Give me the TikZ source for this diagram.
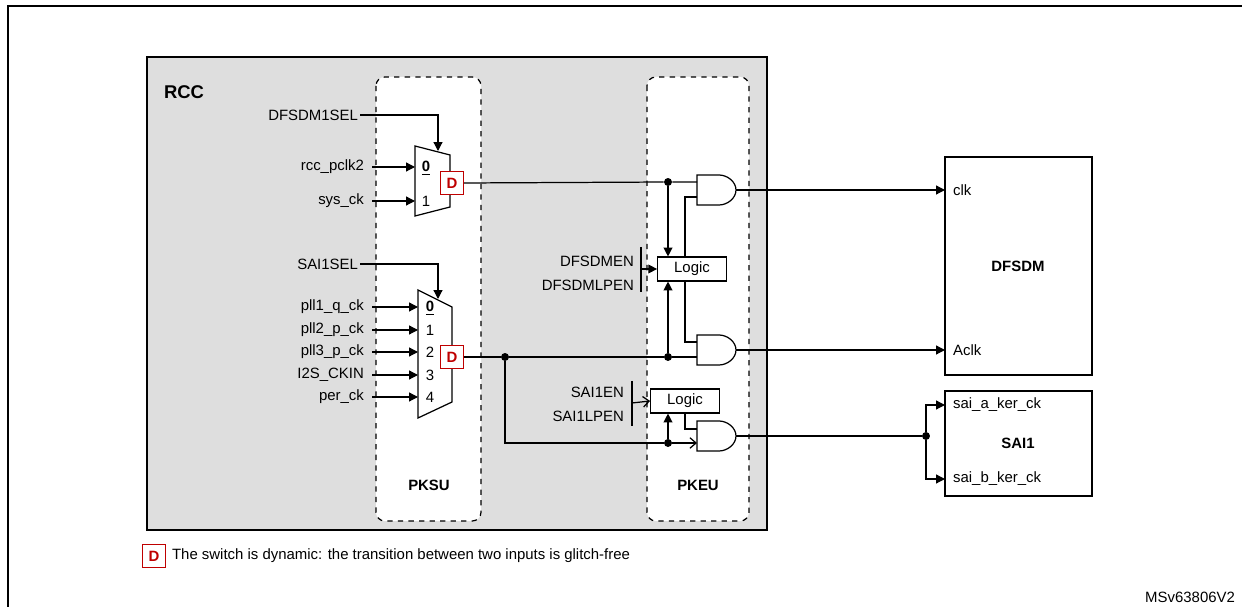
\documentclass[tikz,border=0pt]{standalone}
\usepackage{fontspec}
\setmainfont{Liberation Sans}
\usetikzlibrary{arrows.meta, positioning}

\tikzset{
  wire/.style={line width=0.7pt},
  sig/.style={wire, -{Triangle[length=5pt,width=5pt]}},
  open/.style={wire, -{Straight Barb[length=3.5pt,width=6pt]}},
  dot/.style={circle, fill, inner sep=1.6pt},
  txt/.style={font=\fontsize{8.5}{10}\selectfont, inner sep=1pt},
  lbl/.style={txt, anchor=east},
  bold/.style={txt, font=\fontsize{8.5}{10}\selectfont\bfseries},
  dbox/.style={draw=red!75!black, text=red!75!black, line width=0.8pt, fill=white,
    font=\fontsize{8.5}{9}\selectfont\bfseries, minimum size=13pt, inner sep=0pt},
  logic/.style={draw, wire, fill=white, txt, minimum width=39pt, minimum height=13.6pt},
  block/.style={draw, line width=1.2pt, fill=white},
  zone/.style={draw, dashed, line width=0.7pt, rounded corners=5pt, fill=white}
}

\begin{document}
\begin{tikzpicture}[x=0.02cm, y=-0.02cm]
  \useasboundingbox (0,0) rectangle (1242,607);
  \draw[line width=1pt] (8,615) -- (8,6) -- (1250,6);

  % RCC area
  \filldraw[fill=black!13, line width=1.2pt] (147,57) rectangle (767,530);
  \draw[zone] (376,77) rectangle (481,521);
  \draw[zone] (647,77) rectangle (749,521);
  \node[bold, anchor=west] (rcc) at (162,92) {\fontsize{10.5}{12}\selectfont RCC};
  \node[bold] (pksu) at (429,485) {PKSU};
  \node[bold] (pkeu) at (698,485) {PKEU};

  % DFSDM1 mux
  \draw[wire, fill=white] (415,146) -- (450,155) -- (450,207) -- (415,216) -- cycle;
  \coordinate (m1top) at (438,151);
  \node[lbl] (dfsel) at (360,115) {DFSDM1SEL};
  \draw[sig] (dfsel.east) -| (m1top);
  \node[lbl] (pclk) at (366,167) {rcc\_pclk2};
  \node[lbl] (sysck) at (366,201) {sys\_ck};
  \draw[sig] (372,167) -- (415,167);
  \draw[sig] (372,201) -- (415,201);
  \node[bold] at (426,168) {\underline{0}};
  \node[txt] at (426,201) {1};
  \node[dbox] (d1) at (452,183) {D};

  % SAI1 mux
  \draw[wire, fill=white] (418,290) -- (452,307) -- (452,402) -- (418,418) -- cycle;
  \coordinate (m2top) at (438,299);
  \node[lbl] (saisel) at (360,264) {SAI1SEL};
  \draw[sig] (saisel.east) -| (m2top);
  \foreach \n/\t/\y in {a/pll1\_q\_ck/307, b/pll2\_p\_ck/330, c/pll3\_p\_ck/352, d/I2S\_CKIN/375, e/per\_ck/397}{
    \node[lbl] (in\n) at (366,\y) {\t};
    \draw[sig] (372,\y) -- (418,\y);
  }
  \node[bold] at (430,308) {\underline{0}};
  \foreach \k/\y in {1/330, 2/352, 3/375, 4/397}
    \node[txt] at (430,\y) {\k};
  \node[dbox] (d2) at (452,357) {D};

  % gates
  \foreach \g/\y in {and1/175, and2/335, and3/421}{
    \draw[wire, fill=white] (697,\y) -- (719,\y)
      .. controls ({727.3},\y) and ({736},{\y+6.7}) .. ({736},{\y+15})
      .. controls ({736},{\y+23.3}) and ({727.3},{\y+30}) .. ({719},{\y+30})
      -- ({697},{\y+30}) -- cycle;
    \coordinate (\g) at ({736},{\y+15});
  }
  \node[logic] (log1) at (692,269) {Logic};
  \node[logic] (log2) at (685,401) {Logic};

  % DFSDM paths
  \node[dot] (j1) at (668,182) {};
  \node[dot] (j2) at (668,357) {};
  \node[dot] (j3) at (505,357) {};
  \node[dot] (j4) at (668,443) {};
  \draw[wire] (d1.east) -- (j1) -- (697,182);
  \draw[wire] (d2.east) -- (j3) -- (j2) -- (697,357);
  \draw[sig] (j1) -- (log1.north -| j1);
  \draw[sig] (j2) -- (log1.south -| j2);
  \draw[wire] (697,197) -- (685,197) -- (685,257);
  \draw[wire] (685,281) -- (685,342) -- (697,342);
  \node[lbl] (en1) at (636,261) {DFSDMEN};
  \node[lbl] (lp1) at (636,285) {DFSDMLPEN};
  \draw[wire] (641,247) -- (641,292);
  \draw[sig] (641,269) -- (log1.west);

  % SAI1 paths
  \draw[wire] (j3) |- (j4);
  \draw[open] (j4) -- (697,443);
  \draw[sig] (j4) -- (log2.south -| j4);
  \draw[wire] (log2.south -| 685,0) -- (685,429) -- (697,429);
  \node[lbl] (en2) at (626,392) {SAI1EN};
  \node[lbl] (lp2) at (626,416) {SAI1LPEN};
  \draw[wire] (632,381) -- (632,426);
  \draw[open] (632,403) -- (log2.west);

  % peripherals
  \draw[block] (945,157) rectangle (1092,375);
  \node[bold] (dfsdm) at (1018,266) {DFSDM};
  \node[txt, anchor=west] (clk) at (951,190) {clk};
  \node[txt, anchor=west] (aclk) at (951,350) {Aclk};
  \draw[sig] (and1) -- (945,190);
  \draw[sig] (and2) -- (945,350);

  \draw[block] (945,391) rectangle (1092,496);
  \node[bold] (sai1) at (1018,443) {SAI1};
  \node[txt, anchor=west] (saia) at (951,405) {sai\_a\_ker\_ck};
  \node[txt, anchor=west] (saib) at (951,479) {sai\_b\_ker\_ck};
  \node[dot] (j5) at (926,436) {};
  \draw[wire] (and3) -- (j5);
  \draw[sig] (j5) |- (945,405);
  \draw[sig] (j5) |- (945,479);

  % legend
  \node[dbox] (dleg) at (154,556) {D};
  \node[txt, anchor=west] (legtxt) at (170,556) {The switch is dynamic: the transition between two inputs is glitch-free};
  \node[txt, anchor=east] (ref) at (1237,597) {MSv63806V2};
\end{tikzpicture}
\end{document}
